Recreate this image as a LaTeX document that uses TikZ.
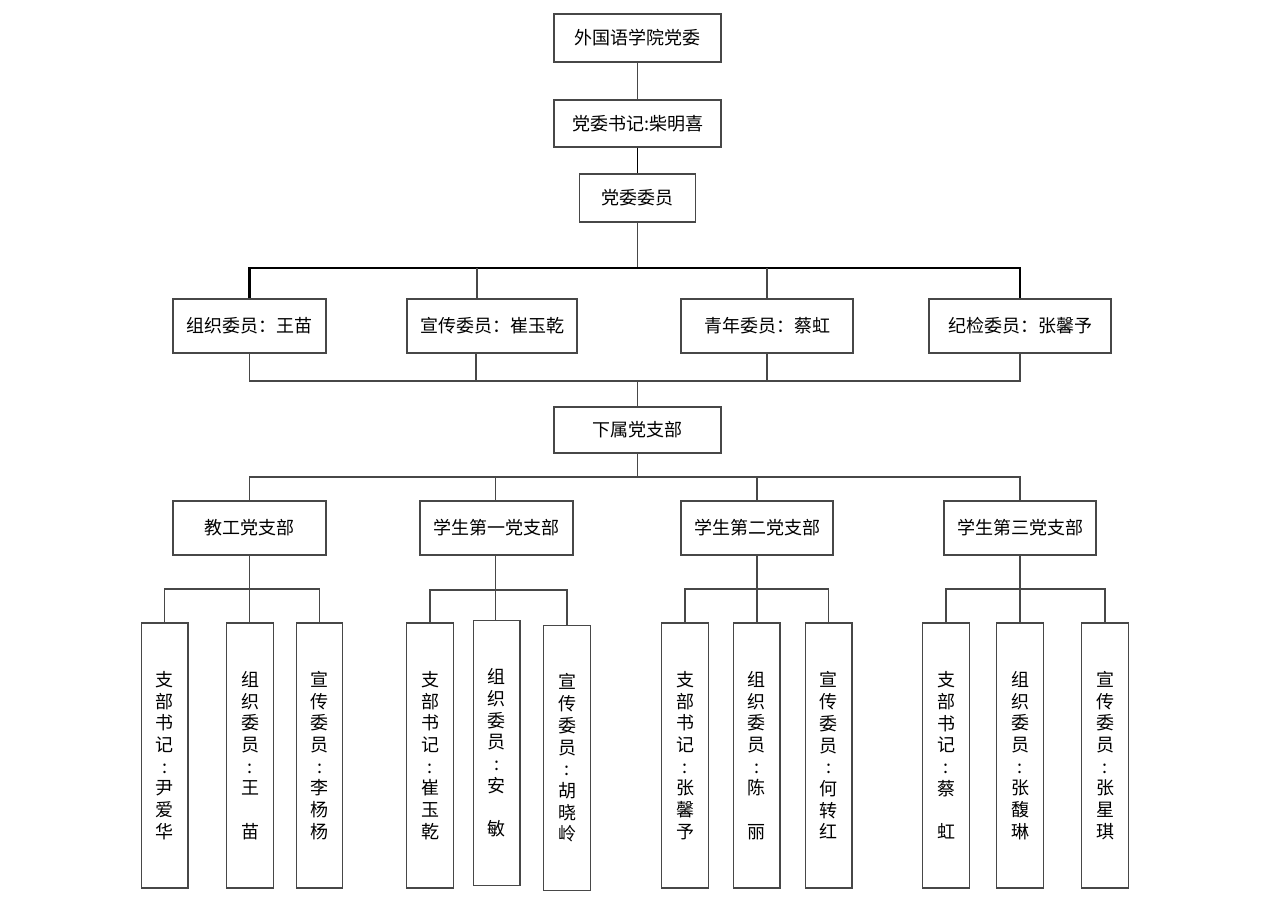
\documentclass[tikz,border=0pt]{standalone}
\usepackage{fontspec}
\setmainfont{Noto Sans CJK SC}
\begin{document}
\begin{tikzpicture}[x=1pt,y=-1pt,
  box/.style={draw=black!72, line width=1.2pt, fill=white, inner sep=0pt,
    font=\fontsize{18}{21.7}\selectfont, align=center},
  hbox/.style={box, minimum height=#1},
  vbox/.style={box, minimum width=46.5pt, minimum height=265pt},
  conn/.style={draw=black!72, line width=1.5pt},
  heavy/.style={draw=black, line width=2.4pt, line join=miter}]
\useasboundingbox[fill=white] (0,0) rectangle (1267,917);

% top chain
\node[hbox=48pt, minimum width=167pt] (n1) at (637.5,38) {外国语学院党委};
\node[hbox=47pt, minimum width=167pt] (n2) at (637.5,123.5) {党委书记:柴明喜};
\node[hbox=48pt, minimum width=116pt] (n3) at (637.5,198) {党委委员};

% committee members
\node[hbox=54pt, minimum width=153pt] (c1) at (249.5,326) {组织委员：王苗};
\node[hbox=54pt, minimum width=170pt] (c2) at (492,326) {宣传委员：崔玉乾};
\node[hbox=54pt, minimum width=172pt] (c3) at (767,326) {青年委员：蔡虹};
\node[hbox=54pt, minimum width=182pt] (c4) at (1020,326) {纪检委员：张馨予};

\node[hbox=46pt, minimum width=167pt] (sub) at (637.5,430) {下属党支部};

% branches
\node[hbox=54pt, minimum width=153pt] (b1) at (249.5,528) {教工党支部};
\node[hbox=54pt, minimum width=153pt] (b2) at (496.5,528) {学生第一党支部};
\node[hbox=54pt, minimum width=152pt] (b3) at (757,528) {学生第二党支部};
\node[hbox=54pt, minimum width=152pt] (b4) at (1020,528) {学生第三党支部};

% leaves
\node[vbox] (l11) at (164.7,755.5) {支\\部\\书\\记\\:\\尹\\爱\\华};
\node[vbox] (l12) at (250,755.5) {组\\织\\委\\员\\:\\王\\\phantom{王}\\苗};
\node[vbox] (l13) at (319.5,755.5) {宣\\传\\委\\员\\:\\李\\杨\\杨};
\node[vbox] (l21) at (430,755.5) {支\\部\\书\\记\\:\\崔\\玉\\乾};
\node[vbox] (l22) at (496.7,753) {组\\织\\委\\员\\:\\安\\\phantom{安}\\敏};
\node[vbox] (l23) at (567,758) {宣\\传\\委\\员\\:\\胡\\晓\\岭};
\node[vbox] (l31) at (685,755.5) {支\\部\\书\\记\\:\\张\\馨\\予};
\node[vbox] (l32) at (756.7,755.5) {组\\织\\委\\员\\:\\陈\\\phantom{陈}\\丽};
\node[vbox] (l33) at (828.7,755.5) {宣\\传\\委\\员\\:\\何\\转\\红};
\node[vbox] (l41) at (946,755.5) {支\\部\\书\\记\\:\\蔡\\\phantom{蔡}\\虹};
\node[vbox] (l42) at (1020,755.5) {组\\织\\委\\员\\:\\张\\馥\\琳};
\node[vbox] (l43) at (1105,755.5) {宣\\传\\委\\员\\:\\张\\星\\琪};

% bar coordinates
\coordinate (top) at (0,268);
\coordinate (bot) at (0,381);
\coordinate (brb) at (0,477);
\coordinate (t2) at (477,0);
\coordinate (s1) at (0,589);
\coordinate (s2) at (0,590);

% top chain connectors
\draw[conn] (n1) -- (n2);
\draw[heavy, line width=1.9pt] (n2) -- (n3);
\draw[conn] (n3.south) -- (n3.south |- top);

% upper bar
\draw[heavy] (c1.north) -- (c1.north |- top) -- (c4.north |- top) -- (c4.north);
\draw[conn] (t2 |- top) -- (t2 |- c2.north);
\draw[conn] (c3.north |- top) -- (c3.north);

% lower bar
\draw[conn, line width=1.9pt, line join=miter] (c1.south) -- (c1.south |- bot) -- (c4.south |- bot) -- (c4.south);
\draw[conn] ([xshift=-1pt]t2 |- c2.south) -- ([xshift=-1pt]t2 |- bot);
\draw[conn] (c3.south) -- (c3.south |- bot);
\draw[conn] (sub.north |- bot) -- (sub.north);

% branch bar
\draw[conn] (sub.south) -- (sub.south |- brb);
\draw[conn] (b1.north) -- (b1.north |- brb) -- (b4.north |- brb) -- (b4.north);
\draw[conn] ([xshift=-0.8pt]b2.north |- brb) -- ([xshift=-0.8pt]b2.north);
\draw[conn] (b3.north |- brb) -- (b3.north);

% sub bars
\draw[conn] (b1.south) -- (b1.south |- l12.north);
\draw[conn] (l11.north) -- (l11.north |- s1) -- (l13.north |- s1) -- (l13.north);
\draw[conn] ([xshift=-0.8pt]b2.south) -- ([xshift=-0.8pt]b2.south |- l22.north);
\draw[conn] (l21.north) -- (l21.north |- s2) -- (l23.north |- s2) -- (l23.north);
\draw[conn] (b3.south) -- (b3.south |- l32.north);
\draw[conn] (l31.north) -- (l31.north |- s1) -- (l33.north |- s1) -- (l33.north);
\draw[conn] (b4.south) -- (b4.south |- l42.north);
\draw[conn] (l41.north) -- (l41.north |- s1) -- (l43.north |- s1) -- (l43.north);
\end{tikzpicture}
\end{document}
